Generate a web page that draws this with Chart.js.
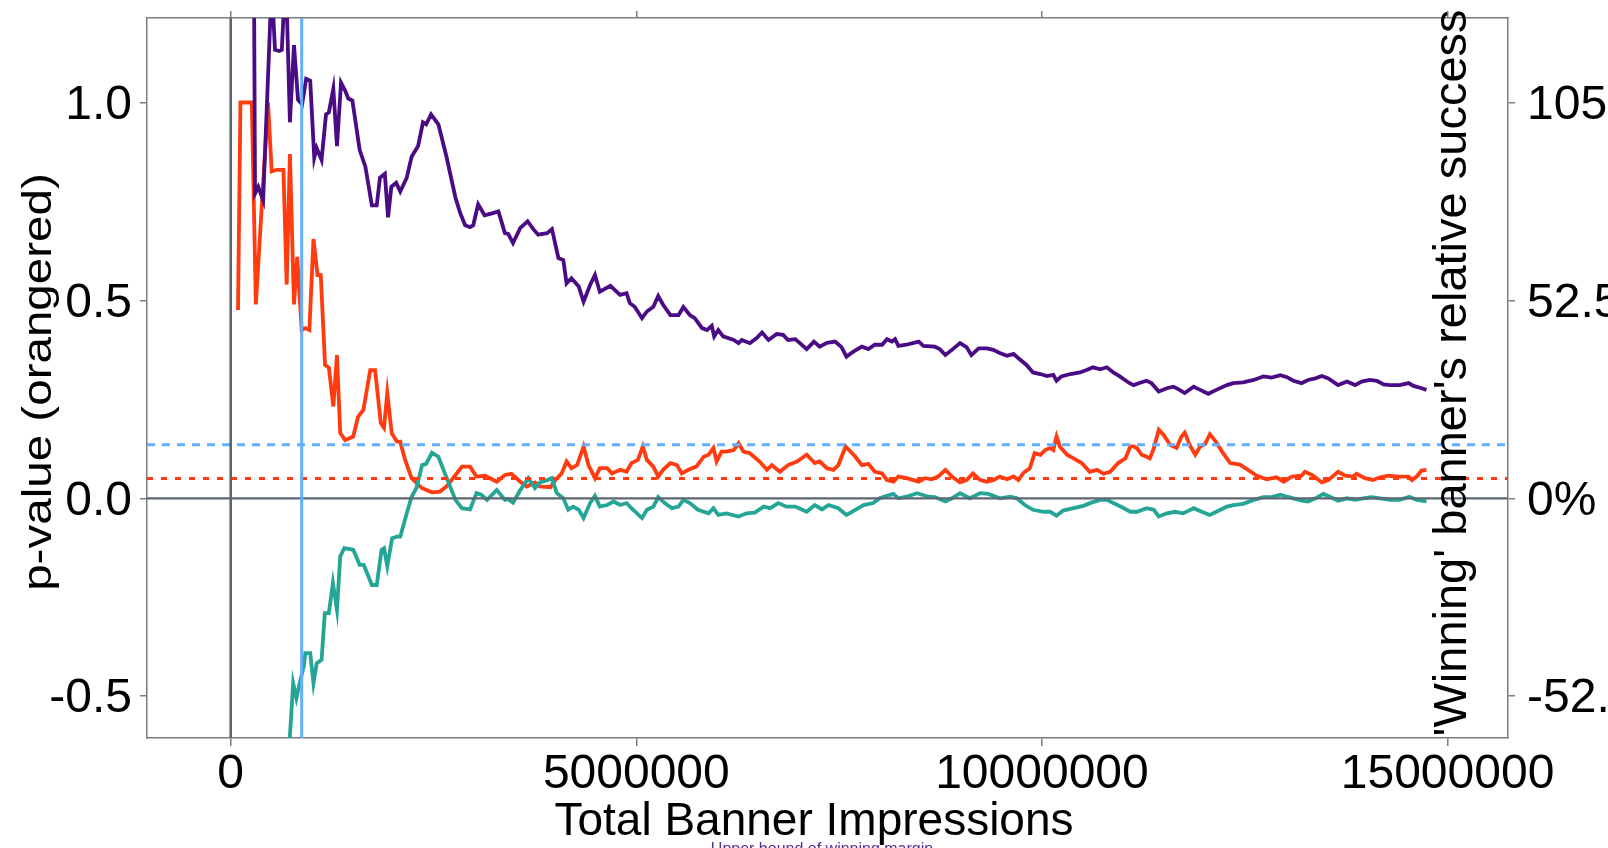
<!DOCTYPE html>
<html>
<head>
<meta charset="utf-8">
<script src="https://cdn.jsdelivr.net/npm/chart.js@4.4.1/dist/chart.umd.min.js"></script>
<style>
  body { margin: 0; background: #fff; }
  #wrap { width: 1608px; height: 848px; }
</style>
</head>
<body>
<div id="wrap"><canvas id="chart"></canvas></div>
<script>
// impressions in millions, values on the p-value scale
const upperImp = [
  0.28, 0.30, 0.34, 0.40, 0.505, 0.546, 0.60, 0.63, 0.67, 0.69,
  0.73, 0.78, 0.83, 0.88, 0.93, 0.98, 1.03, 1.06, 1.12, 1.175,
  1.21, 1.265, 1.31, 1.36, 1.41, 1.45, 1.50, 1.59, 1.66, 1.74,
  1.80, 1.84, 1.90, 1.94, 1.98, 2.04, 2.09, 2.17, 2.23, 2.31,
  2.37, 2.41, 2.47, 2.56, 2.66, 2.77, 2.83, 2.89, 2.95, 2.99,
  3.05, 3.13, 3.22, 3.30, 3.38, 3.42, 3.48, 3.57, 3.66, 3.73,
  3.79, 3.90, 3.96, 4.04, 4.10, 4.14, 4.20, 4.29, 4.35, 4.43,
  4.49, 4.55, 4.68, 4.80, 4.88, 4.92, 4.98, 5.07, 5.13, 5.21,
  5.27, 5.33, 5.42, 5.52, 5.58, 5.66, 5.72, 5.81, 5.87, 5.93,
  5.96, 6.01, 6.07, 6.20, 6.26, 6.30, 6.40, 6.48, 6.55, 6.63,
  6.73, 6.81, 6.87, 6.96, 7.10, 7.19, 7.26, 7.35, 7.45, 7.53,
  7.59, 7.68, 7.78, 7.86, 7.94, 8.03, 8.09, 8.15, 8.19, 8.23,
  8.33, 8.48, 8.54, 8.68, 8.74, 8.81, 8.89, 8.99, 9.07, 9.13,
  9.22, 9.32, 9.40, 9.48, 9.57, 9.65, 9.71, 9.81, 9.89, 9.98,
  10.06, 10.14, 10.18, 10.24, 10.35, 10.47, 10.55, 10.63, 10.72, 10.80,
  10.88, 10.96, 11.07, 11.13, 11.21, 11.29, 11.35, 11.44, 11.54, 11.62,
  11.68, 11.76, 11.87, 11.95, 12.05, 12.15, 12.28, 12.36, 12.48, 12.61,
  12.73, 12.83, 12.94, 13.02, 13.10, 13.20, 13.28, 13.37, 13.45, 13.53,
  13.65, 13.76, 13.86, 13.94, 14.04, 14.13, 14.21, 14.29, 14.41, 14.52,
  14.58, 14.68, 14.74
]
const upperVal = [
  1.60, 0.77, 0.787, 0.753, 1.30, 1.133, 1.13, 1.133, 1.30, 1.25,
  0.95, 1.145, 1.007, 0.995, 1.06, 1.055, 0.86, 0.885, 0.855, 0.97,
  0.975, 1.035, 0.89, 1.05, 1.03, 1.01, 1.005, 0.88, 0.838, 0.74,
  0.74, 0.81, 0.82, 0.71, 0.787, 0.797, 0.775, 0.81, 0.863, 0.89,
  0.95, 0.945, 0.97, 0.945, 0.863, 0.76, 0.72, 0.69, 0.685, 0.69,
  0.743, 0.715, 0.72, 0.725, 0.67, 0.668, 0.645, 0.683, 0.70, 0.68,
  0.666, 0.670, 0.680, 0.607, 0.602, 0.543, 0.556, 0.535, 0.497, 0.539,
  0.564, 0.522, 0.537, 0.514, 0.518, 0.493, 0.484, 0.455, 0.472, 0.484,
  0.511, 0.489, 0.463, 0.463, 0.483, 0.463, 0.455, 0.430, 0.425, 0.436,
  0.409, 0.425, 0.409, 0.400, 0.392, 0.400, 0.392, 0.404, 0.419, 0.400,
  0.415, 0.413, 0.400, 0.402, 0.377, 0.396, 0.383, 0.393, 0.396, 0.382,
  0.358, 0.371, 0.383, 0.377, 0.388, 0.388, 0.402, 0.396, 0.402, 0.385,
  0.388, 0.396, 0.385, 0.383, 0.377, 0.362, 0.375, 0.392, 0.382, 0.362,
  0.379, 0.379, 0.375, 0.367, 0.360, 0.365, 0.354, 0.337, 0.318, 0.314,
  0.309, 0.312, 0.297, 0.308, 0.314, 0.318, 0.324, 0.331, 0.326, 0.331,
  0.318, 0.308, 0.292, 0.286, 0.292, 0.297, 0.291, 0.270, 0.278, 0.282,
  0.276, 0.266, 0.282, 0.274, 0.264, 0.274, 0.286, 0.291, 0.293, 0.299,
  0.308, 0.305, 0.311, 0.306, 0.297, 0.291, 0.299, 0.303, 0.309, 0.303,
  0.286, 0.295, 0.286, 0.295, 0.299, 0.297, 0.288, 0.286, 0.286, 0.291,
  0.284, 0.278, 0.274
]

const pImp = [
  0.09, 0.12, 0.26, 0.31, 0.46, 0.505, 0.57, 0.65, 0.69, 0.73,
  0.78, 0.82, 0.875, 0.92, 0.97, 1.02, 1.07, 1.11, 1.163, 1.21,
  1.265, 1.31, 1.35, 1.41, 1.51, 1.57, 1.635, 1.72, 1.78, 1.85,
  1.89, 1.93, 1.985, 2.05, 2.09, 2.15, 2.23, 2.355, 2.48, 2.58,
  2.66, 2.765, 2.85, 2.95, 3.03, 3.135, 3.28, 3.38, 3.46, 3.57,
  3.65, 3.75, 3.81, 3.94, 4.00, 4.08, 4.14, 4.20, 4.27, 4.35,
  4.41, 4.49, 4.55, 4.64, 4.70, 4.80, 4.88, 4.94, 5.02, 5.08,
  5.13, 5.21, 5.27, 5.33, 5.42, 5.50, 5.56, 5.64, 5.74, 5.83,
  5.89, 5.95, 5.99, 6.05, 6.11, 6.20, 6.26, 6.32, 6.40, 6.52,
  6.61, 6.67, 6.77, 6.87, 6.98, 7.10, 7.20, 7.26, 7.35, 7.43,
  7.49, 7.58, 7.70, 7.78, 7.86, 7.94, 8.03, 8.09, 8.17, 8.23,
  8.33, 8.48, 8.56, 8.64, 8.72, 8.81, 8.89, 8.99, 9.07, 9.15,
  9.24, 9.32, 9.40, 9.48, 9.57, 9.65, 9.71, 9.77, 9.85, 9.91,
  9.98, 10.04, 10.10, 10.14, 10.18, 10.22, 10.31, 10.39, 10.49, 10.59,
  10.68, 10.76, 10.84, 10.94, 11.03, 11.09, 11.13, 11.17, 11.23, 11.29,
  11.33, 11.38, 11.44, 11.50, 11.58, 11.66, 11.72, 11.76, 11.83, 11.89,
  11.95, 12.01, 12.07, 12.14, 12.22, 12.32, 12.44, 12.54, 12.65, 12.77,
  12.89, 12.98, 13.08, 13.20, 13.24, 13.33, 13.45, 13.53, 13.65, 13.74,
  13.84, 13.88, 13.98, 14.08, 14.17, 14.27, 14.39, 14.52, 14.56, 14.62,
  14.68, 14.74
]
const pVal = [
  0.476, 1.00, 1.00, 0.49, 1.00, 0.826, 0.83, 0.83, 0.54, 0.87,
  0.49, 0.61, 0.425, 0.43, 0.425, 0.655, 0.564, 0.564, 0.337, 0.330,
  0.232, 0.362, 0.165, 0.147, 0.156, 0.206, 0.223, 0.324, 0.324, 0.19,
  0.178, 0.266, 0.164, 0.143, 0.143, 0.097, 0.051, 0.026, 0.015, 0.017,
  0.03, 0.057, 0.08, 0.08, 0.055, 0.057, 0.042, 0.059, 0.062, 0.042,
  0.03, 0.040, 0.030, 0.028, 0.046, 0.063, 0.093, 0.076, 0.084, 0.131,
  0.084, 0.051, 0.076, 0.076, 0.063, 0.072, 0.067, 0.089, 0.097, 0.131,
  0.097, 0.080, 0.055, 0.072, 0.089, 0.084, 0.063, 0.072, 0.080, 0.105,
  0.110, 0.127, 0.093, 0.118, 0.118, 0.122, 0.139, 0.118, 0.114, 0.093,
  0.072, 0.084, 0.067, 0.084, 0.093, 0.110, 0.089, 0.093, 0.076, 0.072,
  0.084, 0.131, 0.105, 0.084, 0.087, 0.067, 0.063, 0.046, 0.042, 0.055,
  0.051, 0.042, 0.051, 0.048, 0.055, 0.072, 0.055, 0.040, 0.046, 0.063,
  0.046, 0.042, 0.046, 0.055, 0.048, 0.055, 0.046, 0.064, 0.076, 0.114,
  0.110, 0.122, 0.127, 0.122, 0.156, 0.131, 0.110, 0.101, 0.089, 0.067,
  0.072, 0.062, 0.067, 0.089, 0.101, 0.131, 0.131, 0.127, 0.110, 0.105,
  0.101, 0.127, 0.173, 0.160, 0.135, 0.127, 0.156, 0.166, 0.131, 0.110,
  0.131, 0.137, 0.162, 0.144, 0.118, 0.089, 0.085, 0.072, 0.057, 0.048,
  0.053, 0.042, 0.055, 0.057, 0.067, 0.059, 0.040, 0.046, 0.067, 0.057,
  0.055, 0.062, 0.051, 0.046, 0.053, 0.057, 0.055, 0.055, 0.046, 0.055,
  0.070, 0.072
]

const lowerImp = [
  0.66, 0.73, 0.77, 0.81, 0.85, 0.90, 0.92, 0.98, 1.02, 1.06,
  1.12, 1.16, 1.21, 1.26, 1.31, 1.35, 1.40, 1.51, 1.59, 1.64,
  1.74, 1.80, 1.86, 1.89, 1.93, 1.99, 2.05, 2.09, 2.17, 2.23,
  2.29, 2.36, 2.41, 2.48, 2.56, 2.64, 2.77, 2.85, 2.95, 3.03,
  3.09, 3.16, 3.28, 3.38, 3.42, 3.48, 3.57, 3.67, 3.75, 3.81,
  3.90, 3.96, 4.02, 4.10, 4.16, 4.22, 4.29, 4.35, 4.43, 4.49,
  4.55, 4.64, 4.72, 4.80, 4.88, 4.94, 5.07, 5.13, 5.21, 5.27,
  5.35, 5.44, 5.52, 5.58, 5.66, 5.76, 5.89, 5.95, 6.01, 6.11,
  6.26, 6.36, 6.46, 6.57, 6.65, 6.75, 6.85, 6.96, 7.10, 7.20,
  7.29, 7.37, 7.49, 7.59, 7.70, 7.80, 7.92, 8.00, 8.09, 8.17,
  8.23, 8.33, 8.46, 8.60, 8.68, 8.81, 8.89, 8.99, 9.11, 9.24,
  9.34, 9.48, 9.61, 9.69, 9.79, 9.89, 10.02, 10.10, 10.18, 10.26,
  10.39, 10.51, 10.61, 10.72, 10.80, 10.88, 10.98, 11.09, 11.17, 11.29,
  11.38, 11.44, 11.54, 11.64, 11.74, 11.87, 11.97, 12.07, 12.15, 12.28,
  12.36, 12.48, 12.61, 12.73, 12.83, 12.94, 13.02, 13.10, 13.20, 13.28,
  13.37, 13.47, 13.55, 13.65, 13.76, 13.86, 13.96, 14.06, 14.17, 14.29,
  14.41, 14.53, 14.62, 14.74
]
const lowerVal = [
  -0.75, -0.60, -0.467, -0.505, -0.467, -0.425, -0.391, -0.391, -0.467, -0.417,
  -0.408, -0.29, -0.29, -0.214, -0.282, -0.147, -0.126, -0.13, -0.168, -0.168,
  -0.219, -0.219, -0.13, -0.126, -0.172, -0.101, -0.097, -0.097, -0.038, 0.004,
  0.026, 0.084, 0.087, 0.115, 0.105, 0.063, -0.004, -0.025, -0.028, 0.013,
  0.009, -0.004, 0.021, -0.004, -0.002, -0.011, 0.021, 0.051, 0.026, 0.040,
  0.046, 0.051, 0.013, 0.0, -0.029, -0.021, -0.029, -0.050, -0.012, 0.006,
  -0.021, -0.017, -0.008, -0.017, -0.012, -0.025, -0.050, -0.029, -0.021, 0.003,
  -0.012, -0.025, -0.021, -0.004, -0.012, -0.029, -0.038, -0.025, -0.042, -0.038,
  -0.046, -0.038, -0.036, -0.021, -0.025, -0.012, -0.021, -0.021, -0.034, -0.017,
  -0.028, -0.017, -0.025, -0.042, -0.029, -0.017, -0.012, 0.0, 0.006, 0.011,
  0.0, 0.004, 0.013, 0.004, 0.003, -0.008, 0.0, 0.013, 0.0, 0.013,
  0.011, 0.0, 0.004, 0.0, -0.017, -0.029, -0.034, -0.034, -0.044, -0.031,
  -0.025, -0.019, -0.011, -0.004, -0.004, -0.012, -0.022, -0.034, -0.034, -0.025,
  -0.029, -0.046, -0.038, -0.034, -0.038, -0.025, -0.034, -0.042, -0.034, -0.021,
  -0.017, -0.014, -0.004, 0.003, 0.003, 0.009, 0.004, 0.0, -0.006, -0.008,
  0.0, 0.011, 0.004, -0.006, 0.0, -0.004, 0.0, 0.003, 0.0, -0.004,
  -0.004, 0.004, -0.004, -0.008
]

const xTicks = [0, 5000000, 10000000, 15000000]
const leftTicks = [-0.5, 0, 0.5, 1.0]
const rightTickLabels = ["-52.5%", "0%", "52.5%", "105%"]

// reference lines
const pThreshold = 0.05
const blueThreshold = 0.135
const blueMarkerImp = 0.875

const xTitle = "Total Banner Impressions"
const yTitle = "p-value (orangered)"
const y2Title = "'Winning' banner's relative success"
const noteText = "Upper bound of winning margin"

const xMin = -1031800, xMax = 15745000
const yMin = -0.6056, yMax = 1.2135
const axisGrey = "#7c7c7c"
const font = "'Liberation Sans', Arial, sans-serif"

Chart.defaults.font.family = font

const toPoints = (xs, ys) => xs.map((x, i) => ({ x: x * 1e6, y: ys[i] }))

// lineas de referencia
const refLines = {
    id: "refLines",
    afterDatasetsDraw(chart) {
        const { ctx, chartArea: a, scales } = chart
        const x = scales.x, y = scales.y
        ctx.save()
        ctx.beginPath()
        ctx.rect(a.left, a.top, a.right - a.left, a.bottom - a.top)
        ctx.clip()
        const hline = (v, color, width, dash) => {
            const py = y.getPixelForValue(v)
            ctx.beginPath()
            ctx.setLineDash(dash)
            ctx.strokeStyle = color
            ctx.lineWidth = width
            ctx.moveTo(a.left, py)
            ctx.lineTo(a.right, py)
            ctx.stroke()
        }
        const vline = (v, color, width) => {
            const px = x.getPixelForValue(v)
            ctx.beginPath()
            ctx.setLineDash([])
            ctx.strokeStyle = color
            ctx.lineWidth = width
            ctx.moveTo(px, a.top)
            ctx.lineTo(px, a.bottom)
            ctx.stroke()
        }
        hline(blueThreshold, "#62aeff", 3, [8, 7])
        hline(pThreshold, "#ff3b0f", 3, [6, 8])
        hline(0, "#5d6773", 2.2, [])
        vline(0, "#5d6773", 2.6)
        vline(blueMarkerImp * 1e6, "#62aeff", 3)
        ctx.restore()
    }
}

// titulos
const titles = {
    id: "titles",
    afterDraw(chart) {
        const ctx = chart.ctx
        ctx.save()
        ctx.fillStyle = "#000"
        ctx.textAlign = "center"
        ctx.textBaseline = "alphabetic"
        ctx.font = "46px " + font
        ctx.fillText(xTitle, 814, 835)

        ctx.save()
        ctx.translate(51, 382)
        ctx.rotate(-Math.PI / 2)
        ctx.scale(1.16, 1)
        ctx.font = "41px " + font
        ctx.fillText(yTitle, 0, 0)
        ctx.restore()

        ctx.save()
        ctx.translate(1466, 373)
        ctx.rotate(-Math.PI / 2)
        ctx.font = "47px " + font
        ctx.fillText(y2Title, 0, 0)
        ctx.restore()

        ctx.font = "16px " + font
        ctx.fillStyle = "#5a2d9c"
        ctx.fillText(noteText, 822, 854)
        ctx.restore()
    }
}

const lineStyle = { borderWidth: 3.8, pointRadius: 0, tension: 0, fill: false, clip: 0 }
const tickFont = { size: 48 }

new Chart(document.getElementById("chart"), {
    type: "line",
    data: {
        datasets: [
            { ...lineStyle, label: "upper", data: toPoints(upperImp, upperVal), borderColor: "#4b0b84" },
            { ...lineStyle, label: "lower", data: toPoints(lowerImp, lowerVal), borderColor: "#24a596" },
            { ...lineStyle, label: "p", data: toPoints(pImp, pVal), borderColor: "#ff3b0f" }
        ]
    },
    options: {
        responsive: true,
        maintainAspectRatio: false,
        animation: false,
        devicePixelRatio: 1,
        layout: { padding: 0 },
        plugins: { legend: { display: false }, tooltip: { enabled: false } },
        scales: {
            x: {
                type: "linear", position: "bottom", min: xMin, max: xMax,
                afterBuildTicks: s => { s.ticks = xTicks.map(v => ({ value: v })) },
                afterFit: s => { s.height = 110; s.paddingLeft = 0; s.paddingRight = 0 },
                ticks: { font: tickFont, color: "#000", padding: 0, maxRotation: 0, autoSkip: false, callback: v => String(v) },
                grid: { drawOnChartArea: false, tickLength: 8, color: axisGrey, lineWidth: 1.5 },
                border: { color: axisGrey, width: 1.5 }
            },
            x2: {
                type: "linear", position: "top", min: xMin, max: xMax,
                afterBuildTicks: s => { s.ticks = xTicks.map(v => ({ value: v })) },
                afterFit: s => { s.height = 18; s.paddingLeft = 0; s.paddingRight = 0 },
                ticks: { display: false },
                grid: { drawOnChartArea: false, tickLength: 7, color: axisGrey, lineWidth: 1.5 },
                border: { color: axisGrey, width: 1.5 }
            },
            y: {
                type: "linear", position: "left", min: yMin, max: yMax,
                afterBuildTicks: s => { s.ticks = leftTicks.map(v => ({ value: v })) },
                afterFit: s => { s.width = 147; s.paddingTop = 0; s.paddingBottom = 0 },
                ticks: { font: tickFont, color: "#000", padding: 8, labelOffset: 3, callback: v => v.toFixed(1) },
                grid: { drawOnChartArea: false, tickLength: 7, color: axisGrey, lineWidth: 1.5 },
                border: { color: axisGrey, width: 1.5 }
            },
            y2: {
                type: "linear", position: "right", min: yMin, max: yMax,
                afterBuildTicks: s => { s.ticks = leftTicks.map(v => ({ value: v })) },
                afterFit: s => { s.width = 100; s.paddingTop = 0; s.paddingBottom = 0 },
                ticks: { font: tickFont, color: "#000", padding: 12, labelOffset: 3, callback: (v, i) => rightTickLabels[i] },
                grid: { drawOnChartArea: false, tickLength: 7, color: axisGrey, lineWidth: 1.5 },
                border: { color: axisGrey, width: 1.5 }
            }
        }
    },
    plugins: [refLines, titles]
})
</script>
</body>
</html>
